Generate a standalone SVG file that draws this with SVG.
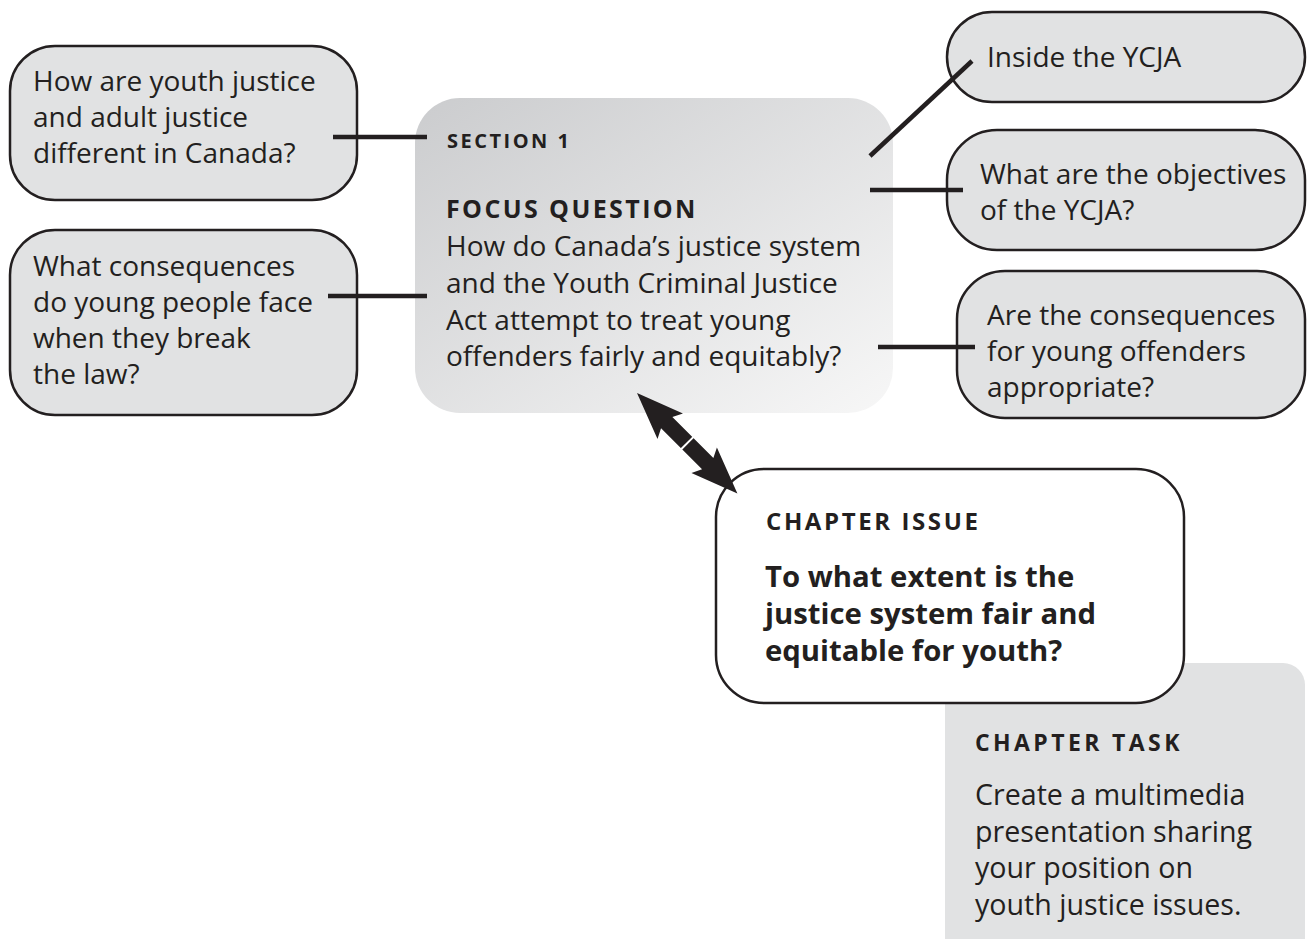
<svg xmlns="http://www.w3.org/2000/svg" width="1310" height="939" viewBox="0 0 1310 939">
<style>
.q{fill:#e1e2e3;stroke:#231f20;stroke-width:2.5}
.t{font-family:"Open Sans","Liberation Sans",sans-serif;font-size:28px;fill:#231f20}
.tl{font-family:"Open Sans","Liberation Sans",sans-serif;font-size:28.6px;fill:#231f20}
.h{font-family:"Open Sans","Liberation Sans",sans-serif;font-weight:bold;fill:#231f20}
.b{font-family:"Open Sans","Liberation Sans",sans-serif;font-weight:bold;font-size:29.3px;fill:#231f20}
.c{stroke:#231f20;stroke-width:4.5;fill:none}
</style>
<defs>
<linearGradient id="g" x1="0" y1="0" x2="1" y2="1">
<stop offset="0" stop-color="#cbccce"/>
<stop offset="1" stop-color="#f7f7f7"/>
</linearGradient>
</defs>
<rect width="1310" height="939" fill="#ffffff"/>
<g id="focus">
<rect x="415" y="98" width="478" height="315" rx="45" fill="url(#g)"/>
<text class="h" x="447" y="148" font-size="20" letter-spacing="2.5">SECTION 1</text>
<text class="h" x="446" y="218" font-size="25" letter-spacing="2.4">FOCUS QUESTION</text>
<text class="t" x="446" y="256">How do Canada’s justice system</text>
<text class="t" x="446" y="293">and the Youth Criminal Justice</text>
<text class="t" x="446" y="330">Act attempt to treat young</text>
<text class="t" x="446" y="366">offenders fairly and equitably?</text>
</g>
<g id="task">
<rect x="945" y="663" width="360" height="300" rx="22" fill="#e1e2e3"/>
<text class="h" x="975" y="751" font-size="23" letter-spacing="3.4">CHAPTER TASK</text>
<text class="tl" x="975" y="805">Create a multimedia</text>
<text class="tl" x="975" y="841.5">presentation sharing</text>
<text class="tl" x="975" y="878">your position on</text>
<text class="tl" x="975" y="914.5">youth justice issues.</text>
</g>
<g id="issue">
<rect x="716" y="469" width="468" height="234" rx="48" fill="#ffffff" stroke="#231f20" stroke-width="2.5"/>
<text class="h" x="766" y="530" font-size="24" letter-spacing="2.6">CHAPTER ISSUE</text>
<text class="b" x="765" y="587">To what extent is the</text>
<text class="b" x="765" y="624">justice system fair and</text>
<text class="b" x="765" y="661">equitable for youth?</text>
</g>
<g id="q1">
<rect class="q" x="10" y="46" width="347" height="154" rx="45"/>
<text class="t" x="33" y="91">How are youth justice</text>
<text class="t" x="33" y="127">and adult justice</text>
<text class="t" x="33" y="163">different in Canada?</text>
</g>
<g id="q2">
<rect class="q" x="10" y="230" width="347" height="185" rx="45"/>
<text class="t" x="33" y="276">What consequences</text>
<text class="t" x="33" y="312">do young people face</text>
<text class="t" x="33" y="348">when they break</text>
<text class="t" x="33" y="384">the law?</text>
</g>
<g id="q3">
<rect class="q" x="947" y="12" width="358" height="90" rx="45"/>
<text class="t" x="987" y="67">Inside the YCJA</text>
</g>
<g id="q4">
<rect class="q" x="947" y="130" width="358" height="120" rx="50"/>
<text class="t" x="980" y="184">What are the objectives</text>
<text class="t" x="980" y="220">of the YCJA?</text>
</g>
<g id="q5">
<rect class="q" x="957" y="271" width="348" height="147" rx="48"/>
<text class="t" x="987" y="325">Are the consequences</text>
<text class="t" x="987" y="361">for young offenders</text>
<text class="t" x="987" y="397">appropriate?</text>
</g>
<g id="connectors">
<line class="c" x1="333" y1="137" x2="427" y2="137"/>
<line class="c" x1="328" y1="296" x2="427" y2="296"/>
<line class="c" x1="870" y1="156" x2="972" y2="61"/>
<line class="c" x1="870" y1="190" x2="963" y2="190"/>
<line class="c" x1="878" y1="347" x2="975" y2="347"/>
<g transform="translate(637,393) rotate(45)">
<polygon points="0,0 47,-18 42,-8 100,-8 95,-18 142,0 95,18 100,8 42,8 47,18" fill="#231f20"/>
<line x1="71" y1="-9" x2="71" y2="9" stroke="#ffffff" stroke-width="2"/>
</g>
</g>
</svg>
